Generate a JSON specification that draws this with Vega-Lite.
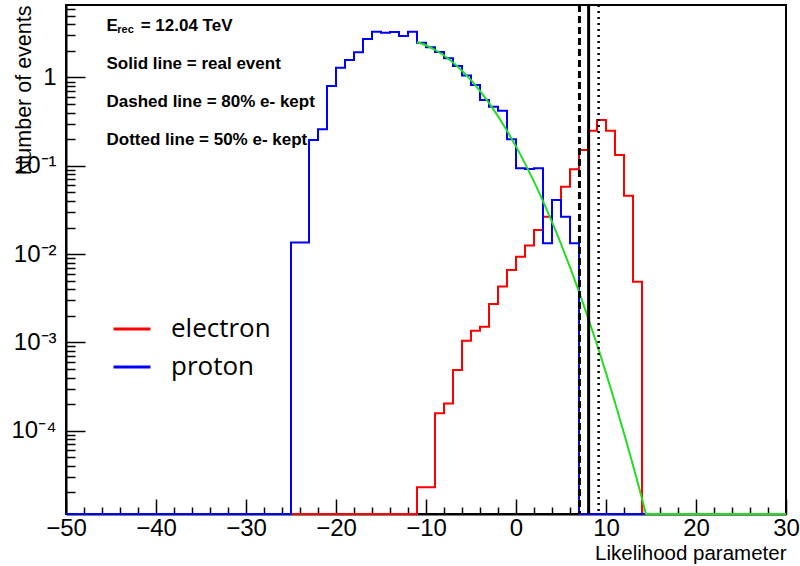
{
  "$schema": "https://vega.github.io/schema/vega-lite/v6.json",
  "width": 720,
  "height": 509,
  "autosize": {"type": "none"},
  "padding": {"left": 66, "top": 5, "right": 14, "bottom": 52},
  "background": "white",
  "config": {"view": {"stroke": "black", "strokeWidth": 2}, "font": "Liberation Sans"},
  "resolve": {"axis": {"x": "independent", "y": "independent"}},
  "datasets": {
    "hist": [
      {"x": -50, "proton": 1e-6}, {"x": -49, "proton": 1e-6}, {"x": -48, "proton": 1e-6}, {"x": -47, "proton": 1e-6},
      {"x": -46, "proton": 1e-6}, {"x": -45, "proton": 1e-6}, {"x": -44, "proton": 1e-6}, {"x": -43, "proton": 1e-6},
      {"x": -42, "proton": 1e-6}, {"x": -41, "proton": 1e-6}, {"x": -40, "proton": 1e-6}, {"x": -39, "proton": 1e-6},
      {"x": -38, "proton": 1e-6}, {"x": -37, "proton": 1e-6}, {"x": -36, "proton": 1e-6}, {"x": -35, "proton": 1e-6},
      {"x": -34, "proton": 1e-6}, {"x": -33, "proton": 1e-6}, {"x": -32, "proton": 1e-6}, {"x": -31, "proton": 1e-6},
      {"x": -30, "proton": 1e-6}, {"x": -29, "proton": 1e-6}, {"x": -28, "proton": 1e-6}, {"x": -27, "proton": 1e-6},
      {"x": -26, "proton": 1e-6},
      {"x": -25, "electron": 1e-6, "proton": 0.0135},
      {"x": -24, "electron": 1e-6, "proton": 0.0135},
      {"x": -23, "electron": 1e-6, "proton": 0.196},
      {"x": -22, "electron": 1e-6, "proton": 0.259},
      {"x": -21, "electron": 1e-6, "proton": 0.8},
      {"x": -20, "electron": 1e-6, "proton": 1.29},
      {"x": -19, "electron": 1e-6, "proton": 1.58},
      {"x": -18, "electron": 1e-6, "proton": 1.93},
      {"x": -17, "electron": 1e-6, "proton": 2.73},
      {"x": -16, "electron": 1e-6, "proton": 3.3},
      {"x": -15, "electron": 1e-6, "proton": 3.22},
      {"x": -14, "electron": 1e-6, "proton": 3.27},
      {"x": -13, "electron": 1e-6, "proton": 2.95},
      {"x": -12, "electron": 1e-6, "proton": 3.3},
      {"x": -11, "electron": 2.29e-5, "proton": 2.48},
      {"x": -10, "electron": 2.29e-5, "proton": 2.2},
      {"x": -9, "electron": 1.575e-4, "proton": 1.95},
      {"x": -8, "electron": 2.04e-4, "proton": 1.65},
      {"x": -7, "electron": 4.87e-4, "proton": 1.35},
      {"x": -6, "electron": 1.045e-3, "proton": 1.05},
      {"x": -5, "electron": 1.358e-3, "proton": 0.82},
      {"x": -4, "electron": 1.507e-3, "proton": 0.556},
      {"x": -3, "electron": 2.72e-3, "proton": 0.467},
      {"x": -2, "electron": 4.3e-3, "proton": 0.42},
      {"x": -1, "electron": 6.6e-3, "proton": 0.2},
      {"x": 0, "electron": 9.35e-3, "proton": 0.0937},
      {"x": 1, "electron": 0.0125, "proton": 0.092},
      {"x": 2, "electron": 0.0187, "proton": 0.0937},
      {"x": 3, "electron": 0.0265, "proton": 0.01325},
      {"x": 4, "electron": 0.041, "proton": 0.041},
      {"x": 5, "electron": 0.058, "proton": 0.0265},
      {"x": 6, "electron": 0.0912, "proton": 0.01325},
      {"x": 7, "electron": 0.151, "proton": 1e-6},
      {"x": 8, "electron": 0.25, "proton": 1e-6},
      {"x": 9, "electron": 0.33, "proton": 1e-6},
      {"x": 10, "electron": 0.25, "proton": 1e-6},
      {"x": 11, "electron": 0.1325, "proton": 1e-6},
      {"x": 12, "electron": 0.0459, "proton": 1e-6},
      {"x": 13, "electron": 0.00487, "proton": 1e-6},
      {"x": 14, "electron": 1e-6, "proton": 1e-6},
      {"x": 15, "electron": 1e-6, "proton": 1e-6},
      {"x": 16, "electron": 1e-6, "proton": 1e-6},
      {"x": 17, "electron": 1e-6, "proton": 1e-6},
      {"x": 18, "electron": 1e-6, "proton": 1e-6},
      {"x": 19, "electron": 1e-6, "proton": 1e-6},
      {"x": 20, "electron": 1e-6, "proton": 1e-6},
      {"x": 21, "electron": 1e-6, "proton": 1e-6},
      {"x": 22, "electron": 1e-6, "proton": 1e-6},
      {"x": 23, "electron": 1e-6, "proton": 1e-6},
      {"x": 24, "electron": 1e-6, "proton": 1e-6},
      {"x": 25, "electron": 1e-6, "proton": 1e-6},
      {"x": 26, "electron": 1e-6, "proton": 1e-6},
      {"x": 27, "electron": 1e-6, "proton": 1e-6},
      {"x": 28, "electron": 1e-6, "proton": 1e-6},
      {"x": 29, "electron": 1e-6, "proton": 1e-6},
      {"x": 30, "electron": 1e-6, "proton": 1e-6}
    ],
    "fit": [
      {"x": -11, "y": 2.52}, {"x": -10, "y": 2.315}, {"x": -9, "y": 2.06}, {"x": -8, "y": 1.775},
      {"x": -7, "y": 1.48}, {"x": -6, "y": 1.194}, {"x": -5, "y": 0.933}, {"x": -4, "y": 0.705},
      {"x": -3, "y": 0.516}, {"x": -2, "y": 0.365}, {"x": -1, "y": 0.25}, {"x": 0, "y": 0.166},
      {"x": 1, "y": 0.1065}, {"x": 2, "y": 0.0662}, {"x": 3, "y": 0.0398}, {"x": 4, "y": 0.0232},
      {"x": 5, "y": 0.01303}, {"x": 6, "y": 0.00711}, {"x": 7, "y": 0.00375}, {"x": 8, "y": 0.00191},
      {"x": 9, "y": 0.000946}, {"x": 10, "y": 0.000452}, {"x": 11, "y": 0.000209}, {"x": 12, "y": 9.38e-5},
      {"x": 13, "y": 4.07e-5}, {"x": 14, "y": 1.71e-5}, {"x": 14.45, "y": 1.14e-5}, {"x": 30, "y": 1.14e-5}
    ],
    "notes": [
      {"x": -45.5, "y": 3.83, "t": "E"},
      {"x": -41.7, "y": 3.83, "t": "= 12.04 TeV"},
      {"x": -45.5, "y": 1.42, "t": "Solid line = real event"},
      {"x": -45.5, "y": 0.521, "t": "Dashed line = 80% e- kept"},
      {"x": -45.5, "y": 0.196, "t": "Dotted line = 50% e- kept"}
    ],
    "sub": [
      {"x": -44.3, "y": 3.45, "t": "rec"}
    ]
  },
  "layer": [
    {
      "data": {"name": "hist"},
      "mark": {"type": "line", "interpolate": "step-after", "strokeWidth": 2},
      "encoding": {
        "x": {
          "field": "x", "type": "quantitative", "title": "Likelihood parameter",
          "scale": {"domain": [-50, 30], "nice": false, "zero": false},
          "axis": {
            "orient": "bottom",
            "values": [-50, -40, -30, -20, -10, 0, 10, 20, 30],
            "tickSize": -15,
            "labelFontSize": 24, "labelColor": "black", "labelPadding": 17, "labelFont": "Liberation Sans",
            "labelFlush": false, "labelOverlap": false, "labelBound": false,
            "tickColor": "black", "tickWidth": 1.5, "domainColor": "black", "domainWidth": 2, "grid": false,
            "titleFontSize": 20.5, "titleFontWeight": "normal", "titleFont": "Liberation Sans", "titleColor": "black",
            "titleAnchor": "end", "titleAlign": "right", "titleX": 720, "titleY": 45, "titleBaseline": "alphabetic"
          }
        },
        "y": {
          "field": "electron", "type": "quantitative", "title": "Number of events",
          "scale": {"type": "log", "domain": [1.14e-5, 6.62], "nice": false, "clamp": true},
          "axis": {
            "orient": "left",
            "values": [0.0001, 0.001, 0.01, 0.1, 1],
            "tickSize": -19,
            "labelExpr": "datum.value == 1 ? '1' : datum.value == 0.1 ? '10⁻¹' : datum.value == 0.01 ? '10⁻²' : datum.value == 0.001 ? '10⁻³' : '10⁻⁴'",
            "labelFontSize": 24, "labelColor": "black", "labelPadding": 29, "labelFont": "Liberation Sans",
            "labelFlush": false, "labelOverlap": false, "labelBound": false,
            "tickColor": "black", "tickWidth": 1.5, "domainColor": "black", "domainWidth": 2, "grid": false,
            "titleFontSize": 21.5, "titleFontWeight": "normal", "titleFont": "Liberation Sans", "titleColor": "black",
            "titleAnchor": "end", "titleAlign": "right", "titleAngle": 270, "titleX": -36, "titleY": 0, "titleBaseline": "alphabetic"
          }
        },
        "color": {
          "datum": "electron", "type": "nominal",
          "scale": {"domain": ["electron", "proton"], "range": ["#ff0000", "#0000ff"]},
          "legend": {
            "orient": "none", "legendX": 46, "legendY": 304, "title": null, "padding": 0,
            "symbolType": "stroke", "symbolSize": 1369, "symbolStrokeWidth": 3,
            "labelFontSize": 26, "labelFont": "Open Sans", "labelColor": "black", "labelOffset": 19,
            "rowPadding": 5, "labelLimit": 300
          }
        }
      }
    },
    {
      "data": {"name": "hist"},
      "mark": {"type": "line", "interpolate": "step-after", "strokeWidth": 2},
      "encoding": {
        "x": {
          "field": "x", "type": "quantitative",
          "scale": {"domain": [-50, 30], "nice": false, "zero": false},
          "axis": {
            "orient": "bottom", "title": null, "labels": false, "domain": false, "grid": false,
            "values": [-48,-46,-44,-42,-38,-36,-34,-32,-28,-26,-24,-22,-18,-16,-14,-12,-8,-6,-4,-2,2,4,6,8,12,14,16,18,22,24,26,28],
            "tickSize": -7, "tickColor": "black", "tickWidth": 1.5
          }
        },
        "y": {
          "field": "proton", "type": "quantitative",
          "scale": {"type": "log", "domain": [1.14e-5, 6.62], "nice": false, "clamp": true},
          "axis": {
            "orient": "left", "title": null, "labels": false, "domain": false, "grid": false,
            "values": [2e-5,3e-5,4e-5,5e-5,6e-5,7e-5,8e-5,9e-5,0.0002,0.0003,0.0004,0.0005,0.0006,0.0007,0.0008,0.0009,0.002,0.003,0.004,0.005,0.006,0.007,0.008,0.009,0.02,0.03,0.04,0.05,0.06,0.07,0.08,0.09,0.2,0.3,0.4,0.5,0.6,0.7,0.8,0.9,2,3,4,5,6],
            "tickSize": -9, "tickColor": "black", "tickWidth": 1.5
          }
        },
        "color": {"datum": "proton", "type": "nominal"}
      }
    },
    {
      "data": {"name": "fit"},
      "mark": {"type": "line", "color": "#22dd22", "strokeWidth": 2},
      "encoding": {
        "x": {"field": "x", "type": "quantitative", "axis": null, "scale": {"domain": [-50, 30], "nice": false, "zero": false}},
        "y": {"field": "y", "type": "quantitative", "axis": null, "scale": {"type": "log", "domain": [1.14e-5, 6.62], "nice": false, "clamp": true}}
      }
    },
    {
      "data": {"values": [{"x": 7.05}]},
      "mark": {"type": "rule", "color": "black", "strokeWidth": 3, "strokeDash": [7, 4]},
      "encoding": {"x": {"field": "x", "type": "quantitative", "axis": null, "scale": {"domain": [-50, 30], "nice": false, "zero": false}}}
    },
    {
      "data": {"values": [{"x": 8.07}]},
      "mark": {"type": "rule", "color": "black", "strokeWidth": 3},
      "encoding": {"x": {"field": "x", "type": "quantitative", "axis": null, "scale": {"domain": [-50, 30], "nice": false, "zero": false}}}
    },
    {
      "data": {"values": [{"x": 9.18}]},
      "mark": {"type": "rule", "color": "black", "strokeWidth": 2.5, "strokeDash": [2, 4]},
      "encoding": {"x": {"field": "x", "type": "quantitative", "axis": null, "scale": {"domain": [-50, 30], "nice": false, "zero": false}}}
    },
    {
      "data": {"name": "notes"},
      "mark": {"type": "text", "align": "left", "baseline": "middle", "fontWeight": "bold", "fontSize": 17, "font": "Liberation Sans", "color": "black"},
      "encoding": {
        "x": {"field": "x", "type": "quantitative", "axis": null, "scale": {"domain": [-50, 30], "nice": false, "zero": false}},
        "y": {"field": "y", "type": "quantitative", "axis": null, "scale": {"type": "log", "domain": [1.14e-5, 6.62], "nice": false, "clamp": true}},
        "text": {"field": "t"}
      }
    },
    {
      "data": {"name": "sub"},
      "mark": {"type": "text", "align": "left", "baseline": "middle", "fontWeight": "bold", "fontSize": 11, "font": "Liberation Sans", "color": "black"},
      "encoding": {
        "x": {"field": "x", "type": "quantitative", "axis": null, "scale": {"domain": [-50, 30], "nice": false, "zero": false}},
        "y": {"field": "y", "type": "quantitative", "axis": null, "scale": {"type": "log", "domain": [1.14e-5, 6.62], "nice": false, "clamp": true}},
        "text": {"field": "t"}
      }
    }
  ]
}
